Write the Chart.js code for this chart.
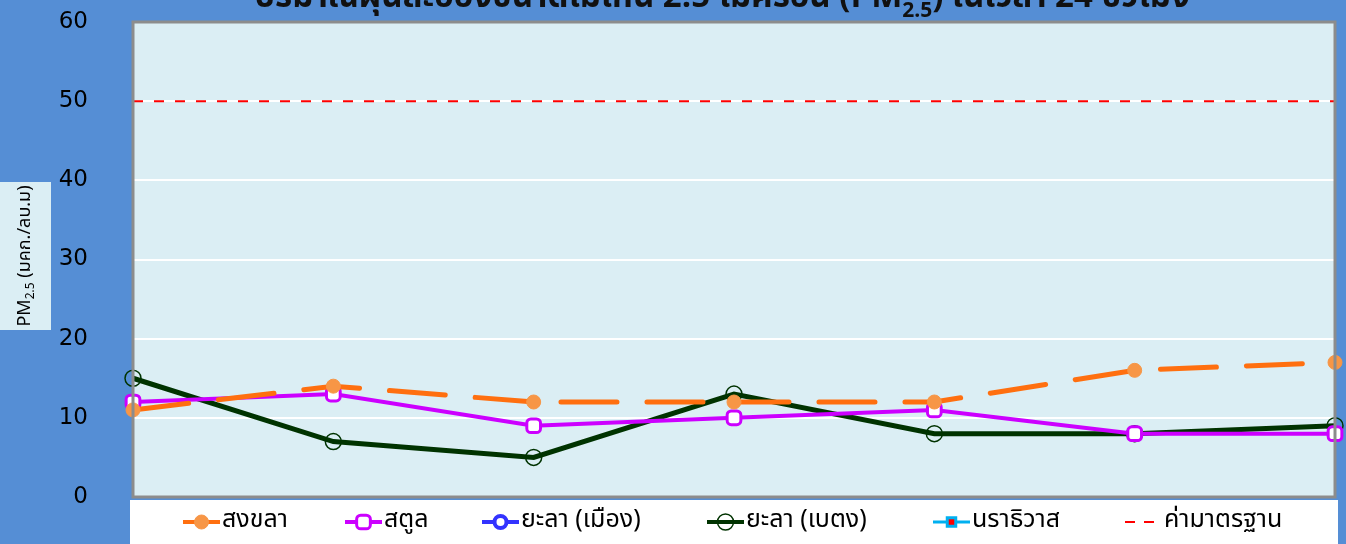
<!DOCTYPE html>
<html>
<head>
<meta charset="utf-8">
<script src="https://cdn.jsdelivr.net/npm/chart.js@4"></script>
<style>
  html, body { margin: 0; padding: 0; background: #558ed5; }
  #wrap { width: 1346px; height: 544px; }
</style>
</head>
<body>
<div id="wrap"><canvas id="myChart" width="1346" height="544"></canvas></div>
<script>
const days = ['1', '2', '3', '4', '5', '6', '7'];
const songkhla = [11, 14, 12, 12, 12, 16, 17];
const satun = [12, 13, 9, 10, 11, 8, 8];
const yalaMueang = [null, null, null, null, null, null, null];
const yalaBetong = [15, 7, 5, 13, 8, 8, 9];
const narathiwat = [null, null, null, null, null, null, null];
const standard = [50, 50, 50, 50, 50, 50, 50];
const yTicks = [0, 10, 20, 30, 40, 50, 60];

const thaiFont = "Tahoma, 'Noto Sans Thai', 'DejaVu Sans', sans-serif";

// background, plot area, title, axis label and legend drawn by hand
const decor = {
    id: 'decor',
    beforeDraw(chart) {
        const c = chart.ctx;
        const a = chart.chartArea;
        c.save();
        c.fillStyle = '#558ed5';
        c.fillRect(0, 0, chart.width, chart.height);
        c.fillStyle = '#dbeef4';
        c.fillRect(a.left, a.top, a.right - a.left, a.bottom - a.top);
        c.restore();
    },
    afterDatasetsDraw(chart) {
        const c = chart.ctx;
        const a = chart.chartArea;
        c.save();
        c.strokeStyle = '#8c8c8c';
        c.lineWidth = 3;
        c.strokeRect(a.left, a.top, a.right - a.left, a.bottom - a.top);
        c.restore();
    },
    afterDraw(chart) {
        const c = chart.ctx;
        c.save();

        // title, only its lower part shows
        const parts = ['ปริมาณฝุ่นละอองขนาดไม่เกิน 2.5 ไมครอน (PM', '2.5', ') ในเวลา 24 ชั่วโมง'];
        const big = 'bold 33px ' + thaiFont;
        const small = 'bold 21px ' + thaiFont;
        c.font = big;
        const w0 = c.measureText(parts[0]).width;
        const w2 = c.measureText(parts[2]).width;
        c.font = small;
        const w1 = c.measureText(parts[1]).width;
        let x = 722 - (w0 + w1 + w2) / 2;
        const base = 7;
        c.fillStyle = '#111';
        c.textBaseline = 'alphabetic';
        c.textAlign = 'left';
        c.font = big;
        c.fillText(parts[0], x, base);
        x += w0;
        c.font = small;
        c.fillText(parts[1], x, base + 10);
        x += w1;
        c.font = big;
        c.fillText(parts[2], x, base);

        // y axis title box
        c.fillStyle = '#dbeef4';
        c.fillRect(0, 182, 51, 148);
        c.translate(26, 256);
        c.rotate(-Math.PI / 2);
        const l1 = 'PM', l2 = '2.5', l3 = ' (มคก./ลบ.ม)';
        c.font = '18px ' + thaiFont;
        const a1 = c.measureText(l1).width, a3 = c.measureText(l3).width;
        c.font = '12px ' + thaiFont;
        const a2 = c.measureText(l2).width;
        let lx = -(a1 + a2 + a3) / 2;
        c.fillStyle = '#000';
        c.textBaseline = 'middle';
        c.font = '18px ' + thaiFont;
        c.fillText(l1, lx, 0);
        lx += a1;
        c.font = '12px ' + thaiFont;
        c.fillText(l2, lx, 6);
        lx += a2;
        c.font = '18px ' + thaiFont;
        c.fillText(l3, lx, 0);
        c.setTransform(1, 0, 0, 1, 0, 0);

        // legend
        c.fillStyle = '#ffffff';
        c.fillRect(130, 500, 1208, 44);
        const symX = [183, 345, 482, 707, 933, 1125];
        const ly = 522;
        chart.data.datasets.forEach((ds, i) => {
            const sx = symX[i];
            const sw = 37;
            c.save();
            c.strokeStyle = ds.borderColor;
            c.lineWidth = Math.min(ds.borderWidth, 4);
            c.lineCap = 'butt';
            if (ds.legendDash) c.setLineDash(ds.legendDash);
            c.beginPath();
            c.moveTo(sx, ly);
            c.lineTo(sx + sw, ly);
            c.stroke();
            c.restore();
            if (ds.pointStyle !== false && ds.pointRadius > 0) {
                c.save();
                c.fillStyle = ds.pointBackgroundColor;
                c.strokeStyle = ds.pointBorderColor;
                c.lineWidth = ds.pointBorderWidth;
                Chart.helpers.drawPoint(c, {
                    pointStyle: ds.pointStyle,
                    radius: ds.pointRadius,
                    rotation: 0,
                    borderWidth: ds.pointBorderWidth
                }, sx + sw / 2, ly);
                c.restore();
            }
            c.fillStyle = '#000';
            c.font = '25px ' + thaiFont;
            c.textBaseline = 'middle';
            c.textAlign = 'left';
            c.fillText(ds.label, sx + sw + 2, ly);
        });
        c.restore();
    }
};

const ctx = document.getElementById('myChart').getContext('2d');

new Chart(ctx, {
    type: 'line',
    data: {
        labels: days,
        datasets: [
            {
                label: 'สงขลา',
                data: songkhla,
                borderColor: '#ff6f0f',
                borderWidth: 5,
                borderDash: [56, 30],
                borderCapStyle: 'round',
                legendDash: [],
                pointStyle: 'circle',
                pointRadius: 7,
                pointBackgroundColor: '#f79646',
                pointBorderColor: '#f79646',
                pointBorderWidth: 1,
                tension: 0
            },
            {
                label: 'สตูล',
                data: satun,
                borderColor: '#cc00ff',
                borderWidth: 4,
                pointStyle: 'rectRounded',
                pointRadius: 8,
                pointBackgroundColor: '#ffffff',
                pointBorderColor: '#cc00ff',
                pointBorderWidth: 3,
                tension: 0
            },
            {
                label: 'ยะลา (เมือง)',
                data: yalaMueang,
                borderColor: '#3333ff',
                borderWidth: 4,
                pointStyle: 'circle',
                pointRadius: 6,
                pointBackgroundColor: '#ffffff',
                pointBorderColor: '#3333ff',
                pointBorderWidth: 4,
                tension: 0
            },
            {
                label: 'ยะลา (เบตง)',
                data: yalaBetong,
                borderColor: '#003300',
                borderWidth: 5,
                pointStyle: 'circle',
                pointRadius: 8,
                pointBackgroundColor: 'rgba(0,0,0,0)',
                pointBorderColor: '#003300',
                pointBorderWidth: 1.5,
                tension: 0
            },
            {
                label: 'นราธิวาส',
                data: narathiwat,
                borderColor: '#00b0f0',
                borderWidth: 3,
                pointStyle: 'rect',
                pointRadius: 6,
                pointBackgroundColor: '#ff0000',
                pointBorderColor: '#00b0f0',
                pointBorderWidth: 3,
                tension: 0
            },
            {
                label: 'ค่ามาตรฐาน',
                data: standard,
                borderColor: '#ff0000',
                borderWidth: 2,
                borderDash: [10, 11],
                legendDash: [10, 9],
                pointStyle: false,
                pointRadius: 0,
                tension: 0
            }
        ]
    },
    options: {
        responsive: false,
        animation: false,
        layout: {
            padding: { left: 0, right: 8, top: 22, bottom: 47 }
        },
        scales: {
            x: {
                display: false,
                offset: false
            },
            y: {
                min: 0,
                max: 60,
                afterBuildTicks: scale => {
                    scale.ticks = yTicks.map(v => ({ value: v }));
                },
                afterFit: scale => {
                    scale.width = 133;
                    scale.paddingTop = 0;
                    scale.paddingBottom = 0;
                },
                border: { display: false },
                grid: {
                    color: '#ffffff',
                    lineWidth: 2,
                    drawTicks: false
                },
                ticks: {
                    color: '#000',
                    padding: 45,
                    font: { family: "Tahoma, 'DejaVu Sans', sans-serif", size: 23 }
                }
            }
        },
        plugins: {
            legend: { display: false },
            title: { display: false },
            tooltip: { enabled: false }
        }
    },
    plugins: [decor]
});
</script>
</body>
</html>
